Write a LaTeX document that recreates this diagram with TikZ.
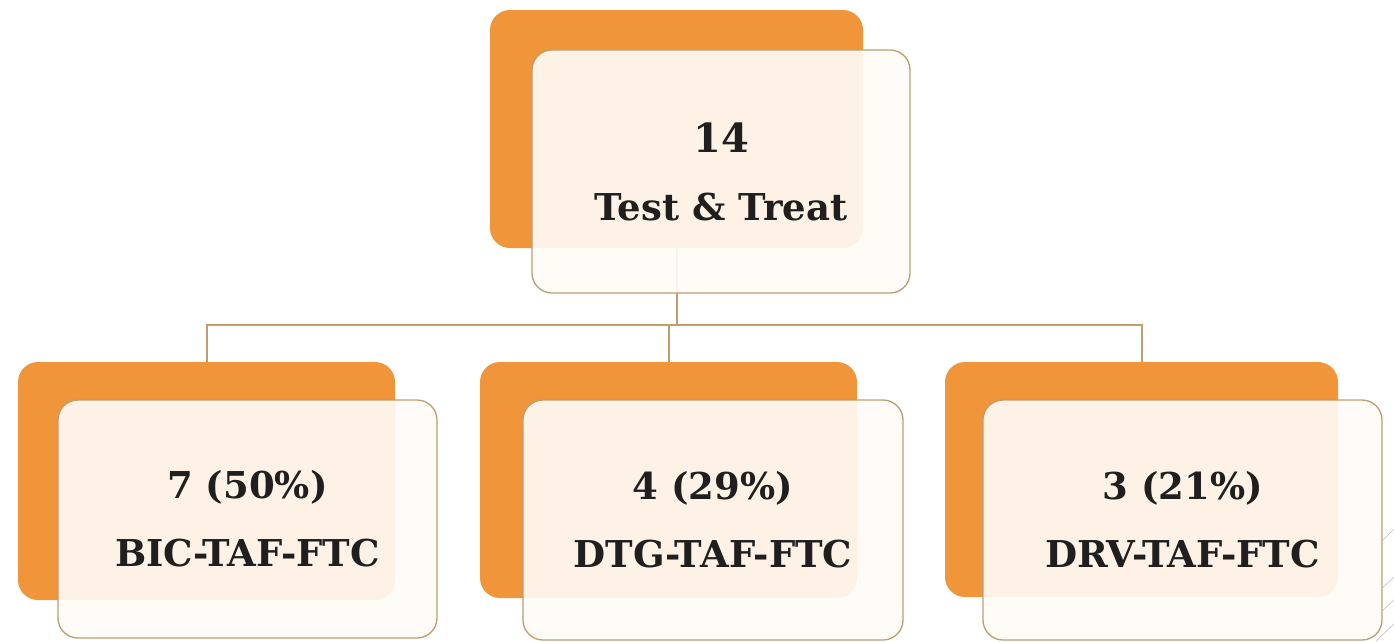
\documentclass[tikz,border=0pt]{standalone}
\usepackage{fontspec}
\setmainfont{DejaVu Serif}
\definecolor{backorange}{HTML}{F0953A}
\definecolor{frontfill}{HTML}{FFFCF7}
\definecolor{tanline}{HTML}{C09C70}
\tikzset{
  backbox/.style={rectangle, rounded corners=20pt, fill=backorange, draw=none, inner sep=0pt},
  frontbox/.style={rectangle, rounded corners=20pt, fill=frontfill, fill opacity=0.91, text opacity=1,
    draw=tanline, line width=1.3pt, draw opacity=1, align=center, inner sep=0pt,
    font=\fontsize{37}{68}\selectfont\bfseries, text=black!88},
  link/.style={draw=tanline, line width=2pt},
  faint/.style={draw=black!25, line width=0.6pt}
}
\begin{document}
\begin{tikzpicture}[x=1pt,y=-1pt]
\useasboundingbox (0,0) rectangle (1394,641);
% back boxes
\node[backbox, minimum width=373pt, minimum height=238pt] (ot) at (676.5,129) {};
\node[backbox, minimum width=377pt, minimum height=238pt] (o1) at (206.5,481) {};
\node[backbox, minimum width=377pt, minimum height=236pt] (o2) at (668.5,480) {};
\node[backbox, minimum width=393pt, minimum height=235pt] (o3) at (1141.5,479.5) {};
% connectors
\coordinate (j) at (676.5,325);
\draw[link] (ot.south) -- (j);
\draw[link] (o1.north) -- (o1.north |- j) -- (o3.north |- j) -- (o3.north);
\draw[link] (o2.north) -- (o2.north |- j);
% faint background lines
\draw[faint] (1382,541) -- (1394,529);
\draw[faint] (1382,588) -- (1394,577);
\draw[faint] (1382,611) -- (1394,600);
\draw[faint] (1376,641) -- (1394,624);
% front boxes
\node[frontbox, minimum width=378pt, minimum height=243pt] (ft) at (721,171.5) {{\fontsize{40}{70}\selectfont 14}\\Test \& Treat};
\node[frontbox, minimum width=379pt, minimum height=238pt] (f1) at (247.5,519) {7 (50\%)\\BIC-TAF-FTC};
\node[frontbox, minimum width=380pt, minimum height=240pt] (f2) at (713,520) {4 (29\%)\\DTG-TAF-FTC};
\node[frontbox, minimum width=399pt, minimum height=240pt] (f3) at (1182.5,520) {3 (21\%)\\DRV-TAF-FTC};
\end{tikzpicture}
\end{document}
